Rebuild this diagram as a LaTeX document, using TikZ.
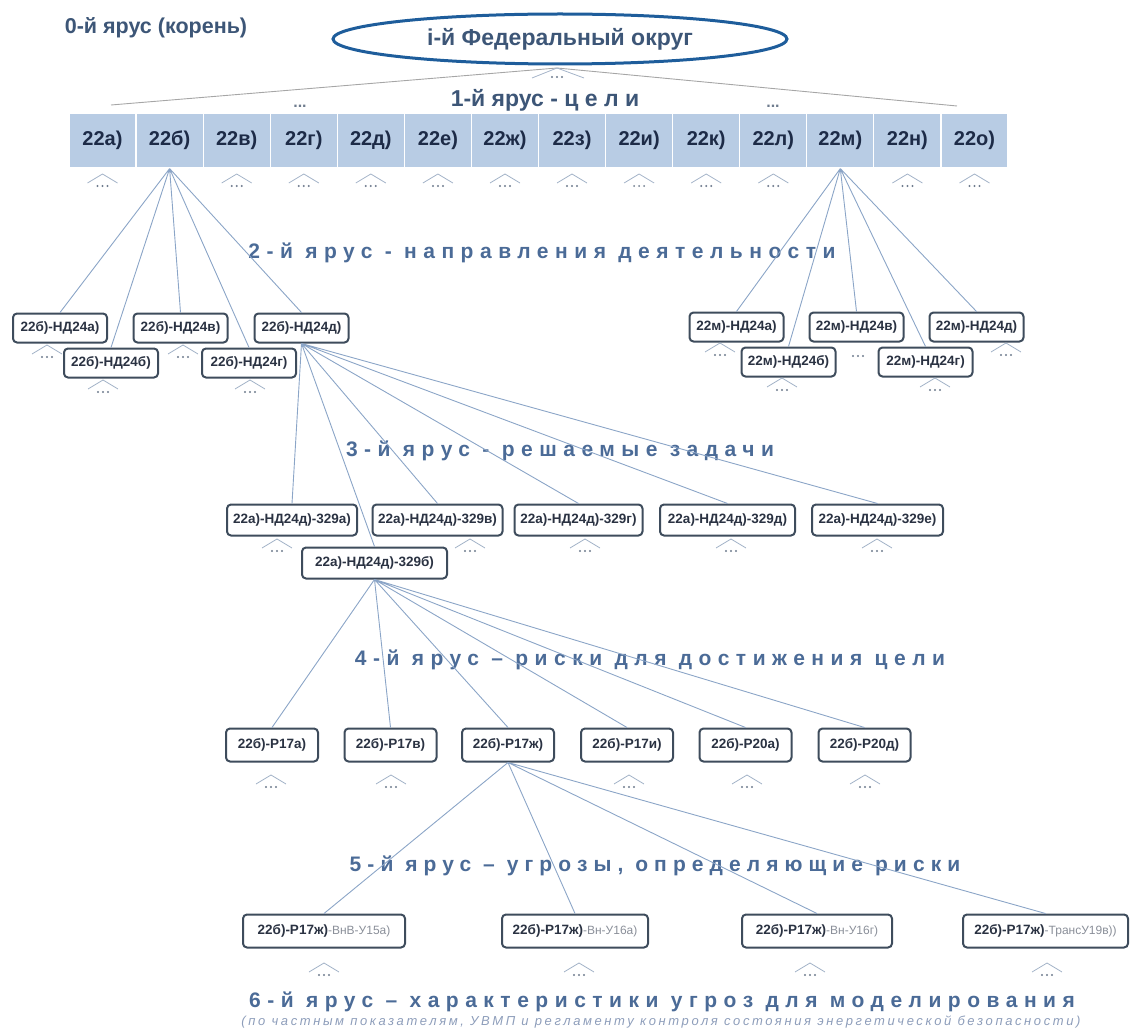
\documentclass[tikz,border=0pt]{standalone}
\usepackage{fontspec}
\setmainfont{Liberation Sans}
\newfontfamily\widefont[LetterSpace=31]{Liberation Sans}
\newfontfamily\notefont[LetterSpace=20]{Liberation Sans}
\usetikzlibrary{shapes.geometric}

\begin{document}
\begin{tikzpicture}[x=1pt, y=-1pt,
  cell/.style={fill=cellFill, draw=white, line width=1.2pt, minimum width=67.07pt, minimum height=55pt, inner sep=0pt, font={\fontsize{20}{20}\selectfont\bfseries}, text=cellText},
  box/.style={draw=boxDraw, line width=2pt, rounded corners=4pt, fill=white, minimum height=29pt, inner sep=2pt, font={\fontsize{13.5}{14}\selectfont\bfseries}, text=boxText},
  link/.style={draw=lineCol, line width=0.9pt},
  wedge/.style={draw=wedgeCol, line width=0.8pt},
  tier/.style={font={\widefont\fontsize{21}{21}\selectfont\bfseries}, text=tierCol},
  title/.style={font={\fontsize{23}{23}\selectfont\bfseries}, text=titleCol}]

% Цвета
\definecolor{titleCol}{HTML}{3D5677}
\definecolor{tierCol}{HTML}{4B6B97}
\definecolor{cellFill}{HTML}{B8CCE4}
\definecolor{cellText}{HTML}{1D2B47}
\definecolor{rootCol}{HTML}{1E5D9B}
\definecolor{boxDraw}{HTML}{3E4C5C}
\definecolor{boxText}{HTML}{2A3242}
\definecolor{lineCol}{HTML}{8BA5C7}
\definecolor{wedgeCol}{HTML}{A3B3C8}
\definecolor{dotCol}{HTML}{6F7C8E}
\definecolor{subCol}{HTML}{8D9DBA}
\definecolor{mutedText}{HTML}{8A8F99}

% Значок "..." под узлом
\def\more(#1,#2){%
  \draw[wedge] (#1-15,#2+9) -- (#1,#2) -- (#1+15,#2+9);
  \fill[dotCol] (#1-5,#2+12) circle (1.1pt) (#1,#2+12) circle (1.1pt) (#1+5,#2+12) circle (1.1pt);
}

\useasboundingbox (0,0) rectangle (1132,1032);

% 0-й ярус
\node[title, font={\fontsize{21.5}{21.5}\selectfont\bfseries}] (tier0) at (156,28) {0-й ярус (корень)};
\node[ellipse, draw=rootCol, line width=3pt, minimum width=454pt, minimum height=50pt, inner sep=0pt, title] (root) at (560,39) {i-й Федеральный округ};

% 1-й ярус
\coordinate (rootfoot) at (557,68);
\coordinate (tierL) at (111,105);
\coordinate (tierR) at (957,106);
\draw[link, draw=gray!70] (tierL) -- (rootfoot) -- (tierR);
\draw[wedge] (532,78) -- (rootfoot) -- (584,78);
\fill[dotCol] (552,77) circle (1.1pt) (557,77) circle (1.1pt) (562,77) circle (1.1pt);
\node[title] (tier1) at (545,100) {1-й ярус - ц е л и};
\node[font={\fontsize{16}{16}\selectfont\bfseries}, text=dotCol] (gapL) at (300,106) {...};
\node[font={\fontsize{16}{16}\selectfont\bfseries}, text=dotCol] (gapR) at (773,106) {...};

\node[cell] (c1) at (102.5,140.5) {22а)};
\node[cell] (c2) at (169.6,140.5) {22б)};
\node[cell] (c3) at (236.7,140.5) {22в)};
\node[cell] (c4) at (303.8,140.5) {22г)};
\node[cell] (c5) at (370.8,140.5) {22д)};
\node[cell] (c6) at (437.9,140.5) {22е)};
\node[cell] (c7) at (505.0,140.5) {22ж)};
\node[cell] (c8) at (572.0,140.5) {22з)};
\node[cell] (c9) at (639.1,140.5) {22и)};
\node[cell] (c10) at (706.2,140.5) {22к)};
\node[cell] (c11) at (773.3,140.5) {22л)};
\node[cell] (c12) at (840.3,140.5) {22м)};
\node[cell] (c13) at (907.4,140.5) {22н)};
\node[cell] (c14) at (974.5,140.5) {22о)};

\more(102.5,174) \more(236.7,174) \more(303.8,174) \more(370.8,174)
\more(437.9,174) \more(505.0,174) \more(572.0,174) \more(639.1,174)
\more(706.2,174) \more(773.3,174) \more(907.4,174) \more(974.5,174)

% 2-й ярус
\node[tier] (tier2) at (542,253) {2-й ярус - направления деятельности};

\node[box, minimum width=94pt] (b1) at (60,328) {22б)-НД24а)};
\node[box, minimum width=94pt] (b3) at (180.5,328) {22б)-НД24в)};
\node[box, minimum width=94pt] (b5) at (301.5,328) {22б)-НД24д)};
\node[box, minimum width=94pt] (b2) at (111,363) {22б)-НД24б)};
\node[box, minimum width=94pt] (b4) at (249,363) {22б)-НД24г)};

\node[box, minimum width=94pt] (m1) at (736.5,327) {22м)-НД24а)};
\node[box, minimum width=94pt] (m3) at (856.5,327) {22м)-НД24в)};
\node[box, minimum width=94pt] (m5) at (976.5,327) {22м)-НД24д)};
\node[box, minimum width=94pt] (m2) at (788.5,362) {22м)-НД24б)};
\node[box, minimum width=94pt] (m4) at (925.5,362) {22м)-НД24г)};

\draw[link] (c2.south) -- (b1.north) (c2.south) -- (b2.north) (c2.south) -- (b3.north)
  (c2.south) -- (b4.north) (c2.south) -- (b5.north);
\draw[link] (c12.south) -- (m1.north) (c12.south) -- (m2.north) (c12.south) -- (m3.north)
  (c12.south) -- (m4.north) (c12.south) -- (m5.north);

\more(47,345) \more(183,345) \more(103,380) \more(250,380)
\more(720,343) \more(1006,343) \more(782,378) \more(935,378)
\fill[dotCol] (853,356) circle (1.1pt) (858,356) circle (1.1pt) (863,356) circle (1.1pt);

% 3-й ярус
\node[tier] (tier3) at (560,451) {3-й ярус - решаемые задачи};

\node[box, minimum width=130pt, minimum height=31pt] (z1) at (292,520) {22а)-НД24д)-329а)};
\node[box, minimum width=130pt, minimum height=31pt] (z3) at (437.5,520) {22а)-НД24д)-329в)};
\node[box, minimum width=128pt, minimum height=31pt] (z4) at (578.5,520) {22а)-НД24д)-329г)};
\node[box, minimum width=135pt, minimum height=31pt] (z5) at (727.5,520) {22а)-НД24д)-329д)};
\node[box, minimum width=131pt, minimum height=31pt] (z6) at (877.5,520) {22а)-НД24д)-329е)};
\node[box, minimum width=145pt, minimum height=31pt] (z2) at (374.5,563) {22а)-НД24д)-329б)};

\draw[link] (b5.south) -- (z1.north) (b5.south) -- (z2.north) (b5.south) -- (z3.north)
  (b5.south) -- (z4.north) (b5.south) -- (z5.north) (b5.south) -- (z6.north);

\more(277,539) \more(470,539) \more(585,539) \more(731,539) \more(877,539)

% 4-й ярус
\node[tier] (tier4) at (650,660) {4-й ярус – риски для достижения цели};

\node[box, minimum width=92pt, minimum height=33pt] (r1) at (272,745) {22б)-Р17а)};
\node[box, minimum width=92pt, minimum height=33pt] (r2) at (390.5,745) {22б)-Р17в)};
\node[box, minimum width=92pt, minimum height=33pt] (r3) at (508,745) {22б)-Р17ж)};
\node[box, minimum width=92pt, minimum height=33pt] (r4) at (627,745) {22б)-Р17и)};
\node[box, minimum width=92pt, minimum height=33pt] (r5) at (745.5,745) {22б)-Р20а)};
\node[box, minimum width=92pt, minimum height=33pt] (r6) at (864.5,745) {22б)-Р20д)};

\draw[link] (z2.south) -- (r1.north) (z2.south) -- (r2.north) (z2.south) -- (r3.north)
  (z2.south) -- (r4.north) (z2.south) -- (r5.north) (z2.south) -- (r6.north);

\more(271,775) \more(391,775) \more(629,775) \more(747,775) \more(865,775)

% 5-й ярус
\node[tier, font={\widefont\fontsize{21}{21}\selectfont\bfseries\addfontfeature{LetterSpace=29}}] (tier5) at (655,866) {5-й ярус – угрозы, определяющие риски};

\node[box, minimum width=162pt, minimum height=33pt] (u1) at (324,931) {22б)-Р17ж)\textcolor{mutedText}{\mdseries\fontsize{12}{12}\selectfont-ВнВ-У15а)}};
\node[box, minimum width=146pt, minimum height=33pt] (u2) at (575,931) {22б)-Р17ж)\textcolor{mutedText}{\mdseries\fontsize{12}{12}\selectfont-Вн-У16а)}};
\node[box, minimum width=150pt, minimum height=33pt] (u3) at (817,931) {22б)-Р17ж)\textcolor{mutedText}{\mdseries\fontsize{12}{12}\selectfont-Вн-У16г)}};
\node[box, minimum width=165pt, minimum height=33pt] (u4) at (1045.5,931) {22б)-Р17ж)\textcolor{mutedText}{\mdseries\fontsize{12}{12}\selectfont-ТрансУ19в))}};

\draw[link] (r3.south) -- (u1.north) (r3.south) -- (u2.north)
  (r3.south) -- (u3.north) (r3.south) -- (u4.north);

\more(324,963) \more(579,963) \more(810,963) \more(1047,963)

% 6-й ярус
\node[tier] (tier6) at (662,1002) {6-й ярус – характеристики угроз для моделирования};
\node[font={\notefont\fontsize{13}{13}\selectfont\itshape}, text=subCol] (note) at (661,1022) {(по частным показателям, УВМП и регламенту контроля состояния энергетической безопасности)};

\end{tikzpicture}
\end{document}
